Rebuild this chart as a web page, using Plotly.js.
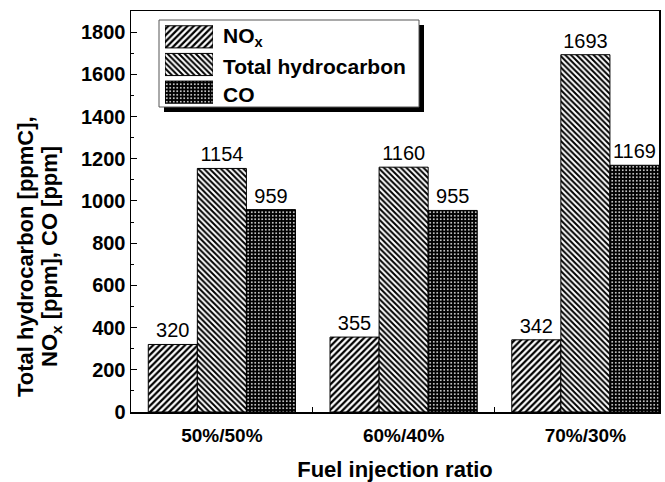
<!DOCTYPE html>
<html><head><meta charset="utf-8">
<script src="https://cdn.plot.ly/plotly-3.0.1.min.js"></script>
<style>html,body{margin:0;padding:0;background:#fff}#chart{width:665px;height:482px}</style>
</head><body><div id="chart"></div>
<script>
const categories = ['50%/50%', '60%/40%', '70%/30%'];
const noxValues = [320, 355, 342];
const thcValues = [1154, 1160, 1693];
const coValues = [959, 955, 1169];
const seriesNames = ['NO<sub>x</sub>', 'Total hydrocarbon', 'CO'];
const yTitleLines = ['Total hydrocarbon [ppmC],', 'NO<sub>x</sub> [ppm], CO [ppm]'];

const F = 'Liberation Sans, Arial, sans-serif';
const xIdx = categories.map((c, i) => i);

const styles = [
  {color: 'white', pattern: {shape: '/', fgcolor: 'black', bgcolor: 'white', size: 4.5, solidity: 0.5}},
  {color: 'white', pattern: {shape: '\\', fgcolor: 'black', bgcolor: 'white', size: 4, solidity: 0.5}},
  {color: 'black', pattern: {shape: '.', fgcolor: 'white', bgcolor: 'black', size: 3.5, solidity: 0.2}}
];
const values = [noxValues, thcValues, coValues];

const traces = values.map((v, k) => ({
  type: 'bar', x: xIdx, y: v, name: seriesNames[k],
  marker: {color: styles[k].color, pattern: styles[k].pattern, line: {color: 'black', width: 1}},
  text: v.map(String), textposition: 'outside', constraintext: 'none', cliponaxis: false,
  textfont: {family: F, size: 20, color: 'black'},
  showlegend: false, hoverinfo: 'skip'
}));

// legend swatches drawn as bars in an inset axis
values.forEach((v, k) => {
  traces.push({
    type: 'bar', orientation: 'h', x: [1], y: [k], xaxis: 'x2', yaxis: 'y2', width: 0.8,
    marker: {color: styles[k].color, pattern: styles[k].pattern, line: {color: 'black', width: 1}},
    showlegend: false, hoverinfo: 'skip'
  });
});

const L = 131, R = 659, T = 11, B = 412;
const px = x => (x - L) / (R - L);
const py = y => (B - y) / (B - T);

const legendRows = [37, 67, 94];
const annotations = seriesNames.map((n, k) => ({
  xref: 'paper', yref: 'paper', x: px(221), y: py(legendRows[k]), xanchor: 'left', yanchor: 'middle',
  showarrow: false, text: '<b>' + n + '</b>', font: {family: F, size: 21}
}));
const yTitleX = [25, 51];
yTitleLines.forEach((t, k) => annotations.push({
  xref: 'paper', yref: 'paper', x: px(yTitleX[k]), y: py(257), xanchor: 'center', yanchor: 'middle',
  textangle: -90, showarrow: false, text: '<b>' + t + '</b>', font: {family: F, size: 22}
}));

const layout = {
  width: 665, height: 482,
  margin: {l: 131, r: 6, t: 11, b: 70},
  paper_bgcolor: 'white', plot_bgcolor: 'rgba(0,0,0,0)',
  barmode: 'group', bargap: 0.19, bargroupgap: 0,
  showlegend: false,
  font: {family: F, color: 'black'},
  xaxis: {
    range: [-0.5, 2.405], tickmode: 'array', tickvals: xIdx, ticktext: categories,
    ticks: 'outside', ticklen: 6, tickcolor: 'rgba(0,0,0,0)', showgrid: false, zeroline: false,
    showline: true, linecolor: 'black', linewidth: 1.5, mirror: true,
    tickfont: {family: F, size: 19, weight: 'bold'},
    minor: {tickmode: 'array', tickvals: [0.5, 1.5], ticks: 'inside', ticklen: 5, tickcolor: 'black', tickwidth: 1, showgrid: false},
    title: {text: '<b>Fuel injection ratio</b>', font: {family: F, size: 22}, standoff: 17}
  },
  yaxis: {
    range: [0, 1900], tickmode: 'linear', tick0: 0, dtick: 200,
    ticks: 'inside', ticklen: 6, tickwidth: 1, tickcolor: 'black',
    minor: {dtick: 100, ticks: 'inside', ticklen: 3, tickcolor: 'black', showgrid: false},
    showgrid: false, zeroline: false,
    showline: true, linecolor: 'black', linewidth: 1.5, mirror: true,
    tickfont: {family: F, size: 20, weight: 'bold'}
  },
  xaxis2: {domain: [px(165), px(213)], range: [0, 1], visible: false, fixedrange: true, anchor: 'y2'},
  yaxis2: {domain: [py(106), py(23)], range: [2.5, -0.5], visible: false, fixedrange: true, anchor: 'x2'},
  shapes: [
    {type: 'rect', xref: 'paper', yref: 'paper', x0: px(164), x1: px(424), y0: py(25), y1: py(112), fillcolor: 'black', line: {width: 0}, layer: 'below'},
    {type: 'rect', xref: 'paper', yref: 'paper', x0: px(159), x1: px(419), y0: py(20), y1: py(107), fillcolor: 'white', line: {color: '#555', width: 1}, layer: 'below'}
  ],
  annotations: annotations
};

Plotly.newPlot('chart', traces, layout, {staticPlot: true, displayModeBar: false});
</script></body></html>
